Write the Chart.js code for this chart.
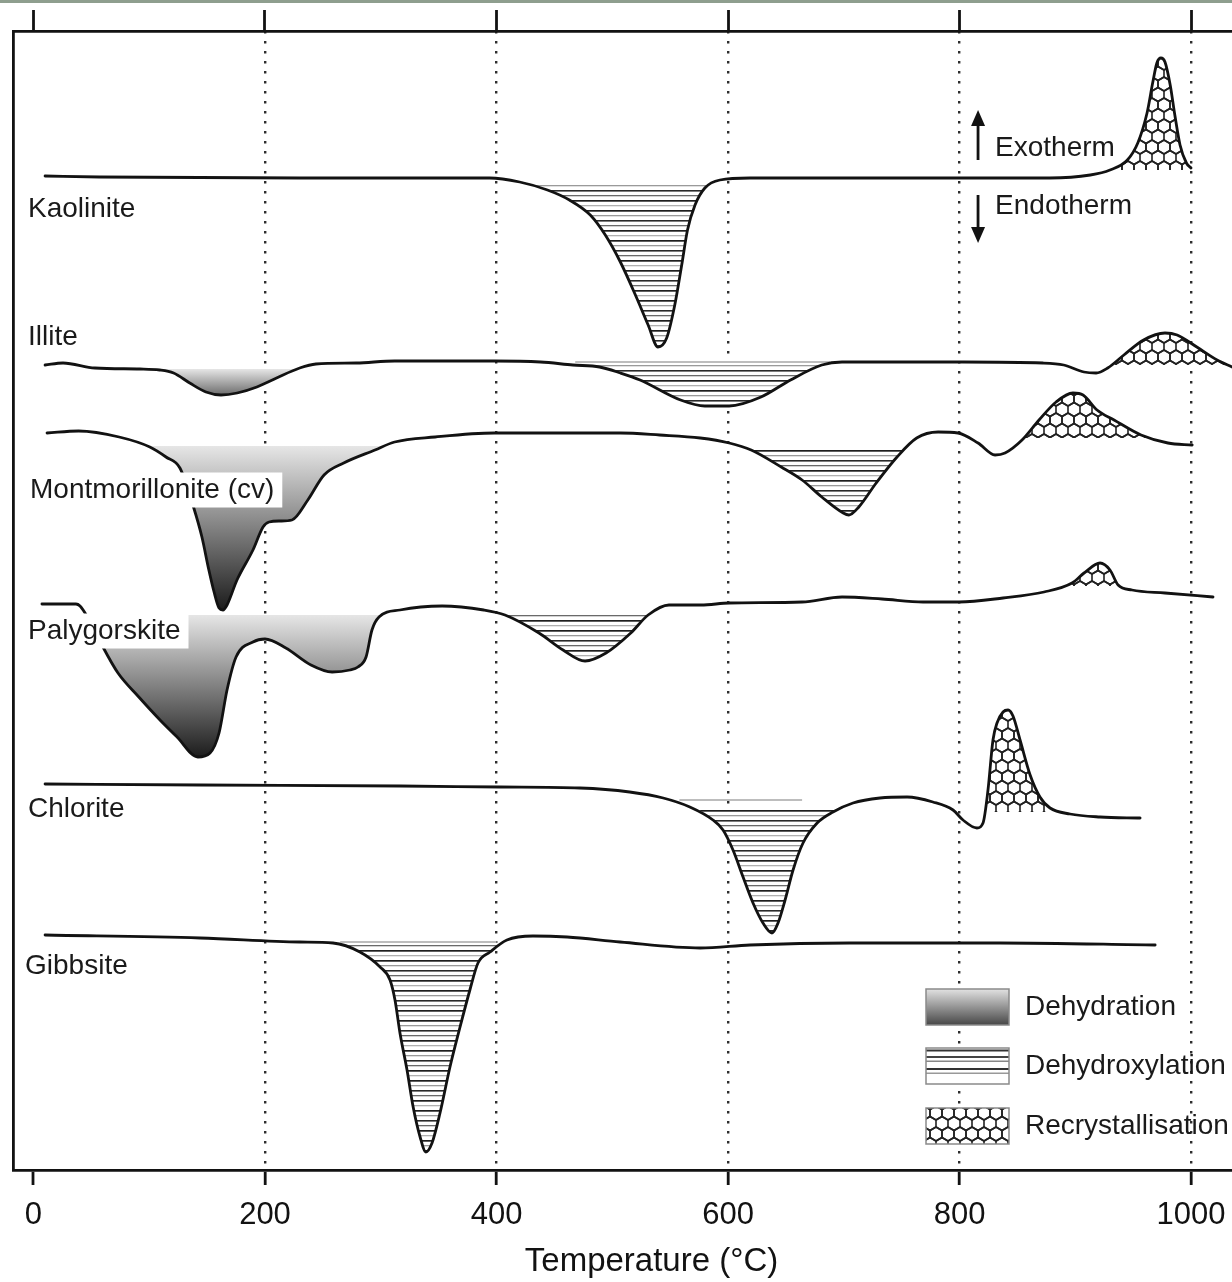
<!DOCTYPE html>
<html>
<head>
<meta charset="utf-8">
<script src="https://cdn.jsdelivr.net/npm/chart.js@4.4.1/dist/chart.umd.min.js"></script>
<style>
  html, body { margin: 0; padding: 0; background: #fff; overflow: hidden; width: 1232px; height: 1282px; }
  #wrap { position: absolute; left: 0; top: 0; width: 1290px; height: 1282px; }
  #bar { position: absolute; left: 0; top: 0; width: 1232px; height: 3px; background: #8e9e8e; }
</style>
</head>
<body>
<div id="wrap"><canvas id="dta" width="1290" height="1282"></canvas></div>
<div id="bar"></div>
<script>
// Temperature axis (°C)
const tempTicks = [0, 200, 400, 600, 800, 1000];

// DTA traces: temperature (°C) and vertically offset signal (arbitrary units, exo up)
const kaoliniteT = [10, 57, 230, 394, 420, 444, 463, 481, 494, 507, 520, 531, 539.5, 547, 554, 560, 565, 571.5, 580, 593, 619, 749, 878, 913, 930, 945, 954, 962, 967, 970.5, 974, 977.5, 982, 986, 990.5, 996, 1000];
const kaoliniteS = [99.4, 99.3, 99.2, 99.2, 98.8, 98.0, 97.0, 95.5, 93.5, 90.8, 87.5, 84.5, 82.3, 83.2, 86.5, 90.5, 94.0, 96.5, 98.2, 99.0, 99.2, 99.2, 99.2, 99.5, 100.0, 101.0, 102.7, 105.7, 108.8, 110.7, 111.2, 110.8, 108.5, 105.5, 102.5, 100.7, 100.2];

const illiteT = [10, 25.5, 53, 92, 109, 121, 135, 149, 162, 176, 193, 210, 230, 244, 279, 312, 398, 438, 466, 489, 507, 524, 559, 580, 601, 628.5, 654, 681, 698.5, 803, 872, 890, 907.5, 918, 928, 942, 959, 977.5, 988, 1005, 1022.5, 1035.5];
const illiteS = [80.5, 80.7, 80.2, 80.1, 80.0, 79.7, 78.7, 77.8, 77.5, 77.7, 78.3, 79.2, 80.2, 80.6, 80.7, 80.9, 80.9, 80.8, 80.5, 80.3, 79.7, 79.0, 77.0, 76.4, 76.4, 77.3, 79.0, 80.5, 80.8, 80.8, 80.7, 80.5, 79.8, 79.7, 80.2, 81.5, 83.0, 83.7, 83.5, 82.3, 81.0, 80.3];

const montmorilloniteT = [11.7, 39, 74, 100.5, 114.5, 126.5, 138.5, 145.5, 151.5, 156, 160.3, 163.7, 167.2, 175.8, 189.6, 198.3, 203.5, 213, 223.3, 237, 251, 268, 295, 312, 347, 398, 507, 541, 576, 601, 620, 646, 664, 681, 699.5, 704.5, 713, 728, 746, 763, 781.5, 798.7, 816, 830.7, 839.3, 854, 868.7, 883.4, 898, 906.7, 918.8, 933.5, 956.8, 980, 1001];
const montmorilloniteS = [73.7, 73.9, 73.3, 72.3, 71.3, 70.2, 66.2, 63.3, 60.0, 57.8, 56.2, 56.0, 56.5, 59.0, 62.0, 64.3, 64.8, 64.9, 65.0, 67.0, 69.5, 70.7, 72.0, 72.8, 73.3, 73.7, 73.7, 73.5, 73.2, 72.7, 72.0, 70.3, 69.0, 67.3, 65.7, 65.5, 66.3, 68.7, 71.3, 73.2, 73.8, 73.7, 72.7, 71.5, 71.7, 73.0, 75.0, 76.8, 77.7, 77.5, 76.0, 75.0, 73.5, 72.7, 72.5];

const palygorskiteT = [7.3, 36.7, 40.2, 47.1, 54, 60, 73, 91, 109.3, 124, 142, 152.5, 160.3, 167.2, 175, 189.6, 200, 218, 239.7, 258, 273.4, 280.3, 287.3, 292.4, 298.5, 316.6, 353, 389, 407.3, 436.7, 457.5, 476.5, 494.6, 516, 531, 549, 576.7, 601, 664, 698.5, 733, 768.5, 799.6, 837.6, 873, 897.2, 907.6, 921.4, 930, 937, 949, 977.5, 1019];
const palygorskiteS = [56.6, 56.6, 56.4, 55.2, 53.7, 52.3, 49.7, 47.3, 45.0, 43.3, 41.3, 41.7, 43.7, 48.0, 51.3, 52.8, 53.1, 52.2, 50.5, 49.8, 50.0, 50.3, 51.3, 54.0, 55.3, 56.0, 56.4, 56.0, 55.5, 53.7, 52.0, 50.9, 51.7, 53.7, 55.5, 56.5, 56.5, 56.7, 56.8, 57.3, 57.1, 56.8, 56.8, 57.2, 57.8, 58.7, 59.7, 60.7, 60.0, 58.5, 58.0, 57.7, 57.3];

const chloriteT = [10, 144, 317, 403, 472, 515, 544, 567, 587, 595.7, 604.3, 613, 621.6, 630.2, 638, 643.2, 649.3, 656.2, 664.8, 677, 690.7, 708, 731.3, 754.7, 777, 794.4, 803, 815, 820.3, 824.6, 828.9, 832.4, 837.6, 841.9, 846.2, 852.3, 861, 869.5, 878.2, 895.5, 921.4, 956];
const chloriteS = [38.6, 38.5, 38.4, 38.3, 38.2, 37.8, 37.2, 36.3, 35.0, 34.0, 32.0, 29.3, 26.7, 24.7, 23.7, 24.7, 27.0, 30.0, 32.7, 34.7, 35.8, 36.7, 37.2, 37.3, 36.8, 36.0, 35.0, 34.2, 34.7, 38.0, 43.0, 44.7, 45.8, 46.0, 45.4, 43.0, 39.5, 37.3, 36.2, 35.6, 35.3, 35.2];

const gibbsiteT = [10, 144, 230, 258.7, 282, 299.4, 308, 312.3, 316.6, 322.7, 328, 334, 339, 344.3, 351.2, 359.8, 368.5, 377, 384, 394.4, 409, 431.5, 461, 506.7, 576, 619, 705, 835, 969];
const gibbsiteS = [23.5, 23.2, 22.8, 22.7, 21.8, 20.3, 19.0, 17.0, 13.7, 10.0, 6.3, 3.3, 1.8, 2.7, 5.7, 10.3, 14.3, 18.0, 20.7, 21.8, 23.0, 23.4, 23.3, 22.8, 22.2, 22.5, 22.7, 22.7, 22.5];

const mineralNames = ['Kaolinite', 'Illite', 'Montmorillonite (cv)', 'Palygorskite', 'Chlorite', 'Gibbsite'];
const labelT = [-4.75, -4.75, -3.0, -4.75, -4.75, -7.3];
const labelS = [96.1, 83.3, 68.0, 53.9, 36.1, 20.4];
const labelBoxed = [false, false, true, true, false, false];

// Shaded events: [trace index, from °C, to °C, base level]
const dehydrationZones = [[1, 95, 265, 80.1], [2, 95, 320, 72.4], [3, 40, 300, 55.5]];
const dehydrationDark = ['#6c6c6c', '#1c1c1c', '#1c1c1c'];
const dehydroxylationZones = [[0, 420, 600, 98.5], [1, 430, 700, 80.8], [2, 600, 770, 72.3], [3, 400, 540, 55.7], [4, 560, 700, 36.2], [5, 250, 420, 22.7]];
const recrystallisationZones = [[0, 925, 1000, 100.0], [1, 925, 1036, 80.5], [2, 850, 960, 73.2], [3, 895, 940, 58.4], [4, 820, 900, 35.8]];

// Faint overshoot strokes of the hatching
const strayT = [[468, 688], [558, 664], [265, 400]];
const strayS = [80.8, 37.0, 22.8];

const legendNames = ['Dehydration', 'Dehydroxylation', 'Recrystallisation'];

const traces = [
  [kaoliniteT, kaoliniteS], [illiteT, illiteS], [montmorilloniteT, montmorilloniteS],
  [palygorskiteT, palygorskiteS], [chloriteT, chloriteS], [gibbsiteT, gibbsiteS]
];

const FONT = '"Liberation Sans", Arial, Helvetica, sans-serif';
const INK = '#121212';

const canvas = document.getElementById('dta');
const g = canvas.getContext('2d');

function makeHatch() {
  const c = document.createElement('canvas');
  c.width = 4; c.height = 30;
  const t = c.getContext('2d');
  t.fillStyle = '#fff'; t.fillRect(0, 0, 4, 30);
  [[0, '#1e1e1e', 1.7], [5, '#9a9a9a', 1.3], [10, '#2a2a2a', 1.6], [15, '#6a6a6a', 1.3], [20, '#1e1e1e', 1.7], [25, '#b0b0b0', 1.3]]
    .forEach(([y, col, w]) => { t.fillStyle = col; t.fillRect(0, y, 4, w); });
  return g.createPattern(c, 'repeat');
}

function makeHex() {
  const w = 12, h = 21, r = 7;
  const c = document.createElement('canvas');
  c.width = w; c.height = h;
  const t = c.getContext('2d');
  t.fillStyle = '#fff'; t.fillRect(0, 0, w, h);
  t.strokeStyle = '#222'; t.lineWidth = 1.6;
  [[0, 0], [w, 0], [w / 2, h / 2], [0, h], [w, h]].forEach(([cx, cy]) => {
    t.beginPath();
    for (let k = 0; k < 6; k++) {
      const a = Math.PI / 2 + k * Math.PI / 3;
      const px = cx + (w / 2) * Math.cos(a) / Math.cos(Math.PI / 6);
      const py = cy + r * Math.sin(a);
      if (k === 0) t.moveTo(px, py); else t.lineTo(px, py);
    }
    t.closePath();
    t.stroke();
  });
  return g.createPattern(c, 'repeat');
}

const hatch = makeHatch();
const hex = makeHex();

// Portion of a trace on one side of a base level, for area shading
function zonePoints(T, S, from, to, level, up) {
  const pts = [];
  for (let i = 0; i < T.length; i++) {
    const inside = T[i] >= from && T[i] <= to;
    const prevInside = i > 0 && T[i - 1] >= from && T[i - 1] <= to;
    if (i > 0 && (inside || prevInside)) {
      const a = S[i - 1] - level, b = S[i] - level;
      if (a * b < 0) {
        const f = a / (a - b);
        pts.push({ x: T[i - 1] + f * (T[i] - T[i - 1]), y: level });
      }
    }
    if (inside) pts.push({ x: T[i], y: up ? Math.max(S[i], level) : Math.min(S[i], level) });
  }
  return pts;
}

const datasets = [];

traces.forEach(([T, S], i) => {
  datasets.push({
    label: mineralNames[i],
    data: T.map((t, k) => ({ x: t, y: S[k] })),
    borderColor: INK, borderWidth: 2.8, pointRadius: 0, fill: false,
    cubicInterpolationMode: 'monotone', borderJoinStyle: 'round', borderCapStyle: 'round', order: 0
  });
});

const areaBase = { borderColor: 'rgba(0,0,0,0)', borderWidth: 0, pointRadius: 0, cubicInterpolationMode: 'monotone', order: 2 };

dehydrationZones.forEach(([m, from, to, level], j) => {
  const pts = zonePoints(traces[m][0], traces[m][1], from, to, level, false);
  const low = Math.min(...pts.map(p => p.y));
  datasets.push(Object.assign({}, areaBase, {
    label: 'Dehydration', data: pts, fill: { value: level },
    backgroundColor: (ctx) => {
      const ch = ctx.chart;
      if (!ch.chartArea) return '#bbb';
      const ys = ch.scales.y;
      const gr = ch.ctx.createLinearGradient(0, ys.getPixelForValue(level), 0, ys.getPixelForValue(low));
      gr.addColorStop(0, '#e6e6e6');
      gr.addColorStop(1, dehydrationDark[j]);
      return gr;
    }
  }));
});

dehydroxylationZones.forEach(([m, from, to, level]) => {
  datasets.push(Object.assign({}, areaBase, {
    label: 'Dehydroxylation', data: zonePoints(traces[m][0], traces[m][1], from, to, level, false),
    fill: { value: level }, backgroundColor: hatch
  }));
});

recrystallisationZones.forEach(([m, from, to, level]) => {
  datasets.push(Object.assign({}, areaBase, {
    label: 'Recrystallisation', data: zonePoints(traces[m][0], traces[m][1], from, to, level, true),
    fill: { value: level }, backgroundColor: hex
  }));
});

strayT.forEach((range, i) => {
  datasets.push({
    label: 'stray', data: range.map(t => ({ x: t, y: strayS[i] })),
    borderColor: '#bdbdbd', borderWidth: 2, pointRadius: 0, fill: false, order: 1
  });
});

const annotations = {
  id: 'annotations',
  afterDatasetsDraw(chart) {
    const { ctx, scales: { x, y } } = chart;
    ctx.save();
    ctx.font = '28px ' + FONT;
    ctx.textBaseline = 'middle';
    ctx.textAlign = 'left';

    // trace names
    mineralNames.forEach((name, i) => {
      const px = x.getPixelForValue(labelT[i]);
      const py = y.getPixelForValue(labelS[i]);
      if (labelBoxed[i]) {
        const w = ctx.measureText(name).width;
        ctx.fillStyle = '#fff';
        ctx.fillRect(px - 3, py - 17.5, w + 11, 35);
      }
      ctx.fillStyle = '#1a1a1a';
      ctx.fillText(name, px, py);
    });

    // exotherm / endotherm key
    const ax = x.getPixelForValue(816);
    const tx = x.getPixelForValue(830.7);
    ctx.strokeStyle = INK; ctx.fillStyle = INK; ctx.lineWidth = 2.8;
    const upTop = y.getPixelForValue(106), upBot = y.getPixelForValue(101);
    ctx.beginPath(); ctx.moveTo(ax, upBot); ctx.lineTo(ax, upTop + 12); ctx.stroke();
    ctx.beginPath(); ctx.moveTo(ax, upTop); ctx.lineTo(ax - 7, upTop + 16); ctx.lineTo(ax + 7, upTop + 16); ctx.closePath(); ctx.fill();
    const dnTop = y.getPixelForValue(97.5), dnBot = y.getPixelForValue(92.7);
    ctx.beginPath(); ctx.moveTo(ax, dnTop); ctx.lineTo(ax, dnBot - 12); ctx.stroke();
    ctx.beginPath(); ctx.moveTo(ax, dnBot); ctx.lineTo(ax - 7, dnBot - 16); ctx.lineTo(ax + 7, dnBot - 16); ctx.closePath(); ctx.fill();
    ctx.fillStyle = '#1a1a1a';
    ctx.fillText('Exotherm', tx, y.getPixelForValue(102.2));
    ctx.fillText('Endotherm', tx, y.getPixelForValue(96.4));

    // shading key
    const bx = 926, bw = 83, bh = 36;
    const rows = [989, 1048, 1108];
    let top = rows[0];
    const gr = ctx.createLinearGradient(0, top, 0, top + bh);
    gr.addColorStop(0, '#e2e2e2'); gr.addColorStop(1, '#474747');
    ctx.fillStyle = gr; ctx.fillRect(bx, top, bw, bh);
    top = rows[1];
    ctx.fillStyle = '#fff'; ctx.fillRect(bx, top, bw, bh);
    [[1.5, '#333', 2], [8, '#444', 2], [12.5, '#888', 1.5], [20, '#333', 2], [24.5, '#999', 1.5]].forEach(([dy, col, w]) => {
      ctx.fillStyle = col; ctx.fillRect(bx, top + dy, bw, w);
    });
    top = rows[2];
    ctx.fillStyle = hex; ctx.fillRect(bx, top, bw, bh);
    ctx.strokeStyle = '#8a8a8a'; ctx.lineWidth = 1.5;
    rows.forEach(r => ctx.strokeRect(bx, r, bw, bh));
    ctx.fillStyle = '#1a1a1a';
    legendNames.forEach((name, i) => ctx.fillText(name, bx + 99, rows[i] + bh / 2));
    ctx.restore();
  }
};

const tickSet = (scale) => { scale.ticks = tempTicks.map(v => ({ value: v })); };

new Chart(canvas, {
  type: 'line',
  data: { datasets },
  options: {
    responsive: false,
    animation: false,
    devicePixelRatio: 1,
    layout: { padding: 0 },
    plugins: { legend: { display: false }, tooltip: { enabled: false } },
    scales: {
      x: {
        type: 'linear', position: 'bottom', min: -17.7, max: 1085.5,
        afterBuildTicks: tickSet,
        afterFit: (s) => { s.height = 112; },
        ticks: {
          font: { family: FONT, size: 31 }, color: INK, padding: 12, maxRotation: 0, autoSkip: false,
          callback: (v) => String(v)
        },
        grid: {
          drawOnChartArea: true,
          color: '#2e2e2e',
          lineWidth: (c) => (c.tick && c.tick.value === 0 ? 0 : 2.4),
          tickColor: INK, tickWidth: 2.8, tickLength: 15, tickBorderDash: []
        },
        border: { display: true, color: INK, width: 2.8, dash: [2.4, 7.6] },
        title: { display: true, text: 'Temperature (°C)', font: { family: FONT, size: 33 }, color: INK, padding: { top: 0, bottom: 0 } }
      },
      xTop: {
        type: 'linear', position: 'top', min: -17.7, max: 1085.5,
        afterBuildTicks: tickSet,
        afterFit: (s) => { s.height = 31; },
        ticks: { display: false },
        grid: { drawOnChartArea: false, tickColor: INK, tickWidth: 2.8, tickLength: 21 },
        border: { display: true, color: INK, width: 2.8 }
      },
      y: {
        type: 'linear', min: 0, max: 113.9,
        afterFit: (s) => { s.width = 13; },
        ticks: { display: false },
        grid: { display: false },
        border: { display: true, color: INK, width: 2.8 }
      }
    }
  },
  plugins: [annotations]
});
</script>
</body>
</html>
